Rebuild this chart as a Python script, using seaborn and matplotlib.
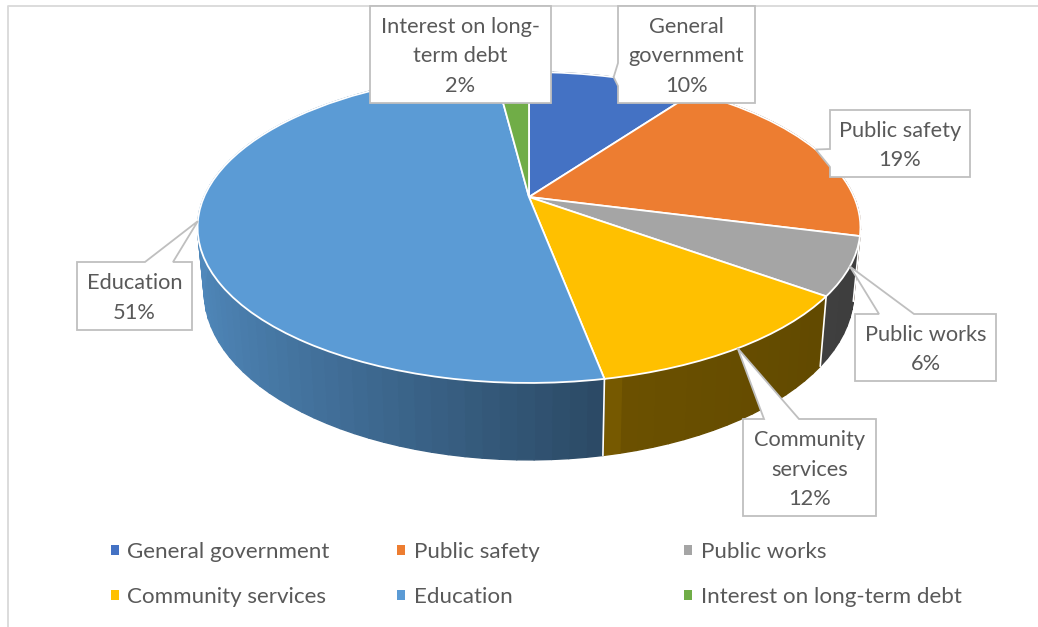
import numpy as np
import matplotlib
matplotlib.use("Agg")
import matplotlib.pyplot as plt
from matplotlib.collections import PolyCollection
from matplotlib.patches import Patch, Polygon
from matplotlib.transforms import Transform
import seaborn as sns

# Budget shares, in percent
categories = ["General government", "Public safety", "Public works",
              "Community services", "Education", "Interest on long-term debt"]
shares = [10, 19, 6, 12, 51, 2]
label_lines = ["General\ngovernment", "Public safety", "Public works",
               "Community\nservices", "Education", "Interest on long-\nterm debt"]
slice_colors = ["#4472C4", "#ED7D31", "#A5A5A5", "#FFC000", "#5B9BD5", "#70AD47"]

sns.set_theme(style="white")
plt.rcParams["font.family"] = ["Lato", "DejaVu Sans"]

TEXT = "#595959"
CALLOUT = "#BFBFBF"
FRAME = "#D9D9D9"
LABEL_PT = 15.7
LEGEND_PT = 16.1


def project_top(x, y):
    """Perspective view of the unit disc onto the figure's pixel grid."""
    w = 1 + 0.196 * y
    return 529 + 325 * x / w, 197 - 149.5 * y / w


def project_bottom(x, y):
    """Same view for the lower rim of the pie's wall."""
    px, py = project_top(x, y)
    return 529 + 0.98 * (px - 529), py + 70 + 0.08 * (py - 296)


class DiscPerspective(Transform):
    input_dims = output_dims = 2
    is_affine = False
    has_inverse = False

    def transform_non_affine(self, values):
        values = np.asarray(values, dtype=float)
        return np.column_stack(project_top(values[:, 0], values[:, 1]))


def wall_shade(x):
    """Wall brightness falls off from the left of the pie to the right."""
    return np.interp(x, [-1.0, 0.22, 0.24, 1.0], [0.88, 0.46, 0.42, 0.37])


fig = plt.figure(figsize=(10.38, 6.27), dpi=100, facecolor="white")
ax = fig.add_axes([0, 0, 1, 1])

palette = sns.color_palette(slice_colors)
wedges, _ = ax.pie(shares, colors=palette, startangle=90, counterclock=False,
                   wedgeprops=dict(edgecolor="white", linewidth=1.3))
ax.set_aspect("auto")
ax.set_xlim(0, 1038)
ax.set_ylim(627, 0)
ax.axis("off")

perspective = DiscPerspective()
for wedge in wedges:
    wedge.set_transform(perspective + ax.transData)
    wedge.set_zorder(2)

# Wall of the pie: narrow strips, each shaded on its own
fractions = np.cumsum([0] + shares) / sum(shares)
strips, strip_colors = [], []
for i, color in enumerate(palette):
    start, stop = fractions[i] * 2 * np.pi, fractions[i + 1] * 2 * np.pi
    steps = max(2, int(np.degrees(stop - start) / 2.5))
    angles = np.linspace(start, stop, steps + 1)
    xs, ys = np.sin(angles), np.cos(angles)
    tx, ty = project_top(xs, ys)
    bx, by = project_bottom(xs, ys)
    for k in range(steps):
        strips.append([(tx[k], ty[k]), (tx[k + 1], ty[k + 1]),
                       (bx[k + 1], by[k + 1]), (bx[k], by[k])])
        shade = wall_shade(xs[k:k + 2].mean())
        strip_colors.append(tuple(np.array(color) * shade))
ax.add_collection(PolyCollection(strips, facecolors=strip_colors,
                                 edgecolors=strip_colors, linewidths=1.0,
                                 zorder=1))

# White seams where two wall sections meet on the visible side
for frac in fractions:
    angle = frac * 2 * np.pi
    x, y = np.sin(angle), np.cos(angle)
    if y < 0:
        tx, ty = project_top(x, y)
        bx, by = project_bottom(x, y)
        ax.plot([tx, bx], [ty, by], color="white", lw=1.2, zorder=1.5)

# Callout boxes: left, top, right, bottom, edge carrying the pointer, and its base
boxes = {
    "General government": (618, 6, 755, 103, "left", 63, 86),
    "Public safety": (830, 110, 970, 177, "left", 149, 167),
    "Public works": (855, 314, 996, 381, "top", 879, 914),
    "Community services": (743, 419, 876, 516, "top", 764, 799),
    "Education": (77, 262, 192, 330, "top", 145, 173),
    "Interest on long-term debt": (370, 6, 551, 103, None, 0, 0),
}

for i, name in enumerate(categories):
    left, top, right, bottom, edge, a, b = boxes[name]
    mid = (fractions[i] + fractions[i + 1]) * np.pi
    tip = project_top(np.sin(mid), np.cos(mid))
    if edge == "top":
        outline = [(left, top), (a, top), tip, (b, top), (right, top),
                   (right, bottom), (left, bottom)]
    elif edge == "left":
        outline = [(left, top), (right, top), (right, bottom), (left, bottom),
                   (left, b), tip, (left, a)]
    else:
        outline = [(left, top), (right, top), (right, bottom), (left, bottom)]
    ax.add_patch(Polygon(outline, closed=True, facecolor="white",
                         edgecolor=CALLOUT, linewidth=1.3, zorder=4))
    ax.text((left + right) / 2, (top + bottom) / 2 + 2,
            f"{label_lines[i]}\n{shares[i]}%", ha="center", va="center",
            fontsize=LABEL_PT, color=TEXT, linespacing=1.62, zorder=5)

# Legend, read across the rows: one small legend per column
legends = []
for col in range(3):
    handles = [Patch(facecolor=palette[col + row * 3], edgecolor="none") for row in range(2)]
    names = [categories[col + row * 3] for row in range(2)]
    legend = ax.legend(handles, names, loc="center left",
                       bbox_to_anchor=(110.5 + col * 286.7, 574.5),
                       bbox_transform=ax.transData, frameon=False,
                       fontsize=LEGEND_PT, labelcolor=TEXT, borderpad=0,
                       borderaxespad=0, handlelength=0.36, handleheight=0.36,
                       handletextpad=0.4, labelspacing=1.12)
    legends.append(legend)
for legend in legends[:-1]:
    ax.add_artist(legend)

# Chart frame: only the top and left edges fall inside the canvas
ax.plot([8, 8, 1038], [627, 6, 6], color=FRAME, lw=1.3, zorder=3, clip_on=False)

fig.savefig("out.png", dpi=100, facecolor="white")
